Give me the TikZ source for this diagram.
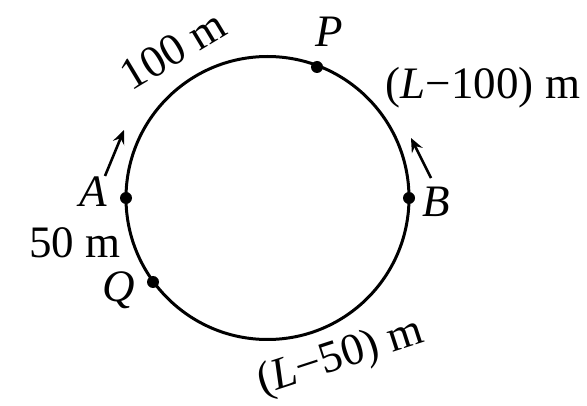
\documentclass[tikz,border=0pt]{standalone}
\usepackage{fontspec}
\setmainfont{Liberation Serif}
\usetikzlibrary{arrows.meta}

\begin{document}
\begin{tikzpicture}[x=1pt,y=-1pt]
\tikzstyle{piste}=[line width=3pt]
\tikzstyle{point}=[circle,fill=black,inner sep=0pt,minimum size=12pt]
\tikzstyle{texte}=[font=\fontsize{45}{48}\selectfont,inner sep=0pt]
\tikzstyle{lettre}=[texte,font=\fontsize{45}{48}\selectfont\itshape]
\tikzstyle{sens}=[-{Stealth[length=14pt,width=12pt,inset=5pt]},line width=2.6pt]
\useasboundingbox (0,0) rectangle (587,406);
\node[circle,draw,piste,minimum size=283pt,inner sep=0pt] (piste) at (267.5,198) {};
\node[point] (A) at (126,198) {};
\node[point] (B) at (409,198) {};
\node[point] (P) at (317,67) {};
\node[point] (Q) at (153,282) {};
\node[lettre] (lA) at (93,192) {A};
\node[lettre] (lB) at (436,202) {B};
\node[lettre] (lP) at (329,32) {P};
\node[lettre] (lQ) at (119,290) {Q};
\node[texte,rotate=31] (d1) at (173,50) {100 m};
\node[texte] (d2) at (483,88) {(\textit{L}−100) m};
\node[texte] (d3) at (75,243) {50 m};
\node[texte,rotate=18] (d4) at (341,358) {(\textit{L}−50) m};
%flèches
\coordinate (a1) at (105,176);
\coordinate (a2) at (124,130);
\coordinate (b1) at (431,178);
\coordinate (b2) at (411,138);
\draw[sens] (a1)--(a2);
\draw[sens] (b1)--(b2);
\end{tikzpicture}
\end{document}
